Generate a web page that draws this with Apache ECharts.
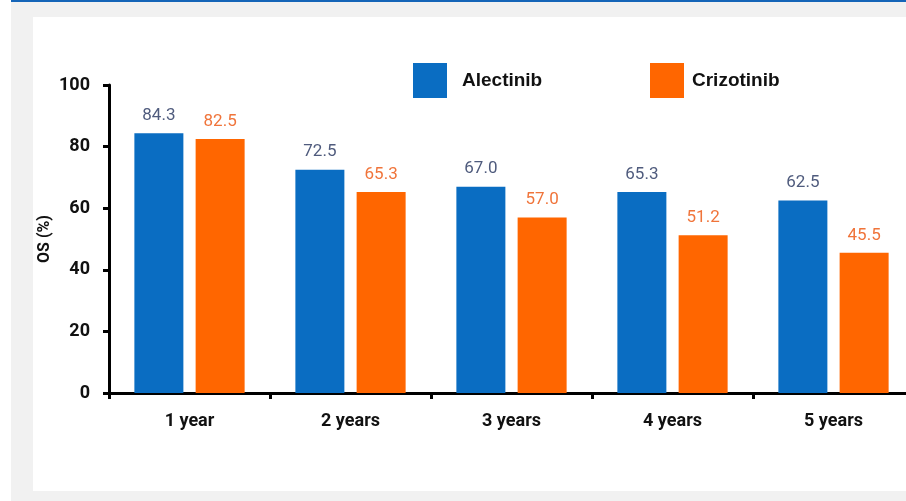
<!DOCTYPE html>
<html>
<head>
<meta charset="utf-8">
<title>OS by year</title>
<script src="https://cdn.jsdelivr.net/npm/echarts@6/dist/echarts.min.js"></script>
<style>
  html, body { margin: 0; padding: 0; background: #ffffff; overflow: hidden; }
  #frame { position: absolute; left: 11px; top: 0; width: 895px; height: 501px; background: #f1f1f1; }
  #topline { position: absolute; left: 11px; top: 0; width: 895px; height: 2px; background: #1565b8; }
  #panel { position: absolute; left: 33px; top: 17px; width: 873px; height: 474px; background: #ffffff; overflow: hidden; }
  #chart { position: absolute; left: 0; top: 0; width: 900px; height: 474px; }
</style>
</head>
<body>
<div id="frame"></div>
<div id="topline"></div>
<div id="panel"><div id="chart"></div></div>
<script>
const categories = ['1 year', '2 years', '3 years', '4 years', '5 years'];
const alectinib = [84.3, 72.5, 67.0, 65.3, 62.5];
const crizotinib = [82.5, 65.3, 57.0, 51.2, 45.5];
const yTicks = [0, 20, 40, 60, 80, 100];

const BLUE = '#0a6dc2';
const ORANGE = '#ff6600';

const chart = echarts.init(document.getElementById('chart'));

function legendText(gap) {
  return {
    fontFamily: '"Liberation Sans", Arial, sans-serif',
    fontWeight: 'bold',
    fontSize: 19,
    color: '#111111',
    padding: [0, 0, 0, gap]
  };
}

const boldText = {
  fontFamily: 'Roboto, sans-serif',
  fontWeight: 'bold',
  color: '#111111'
};

chart.setOption({
  animation: false,
  legend: [
    {
      data: ['Alectinib'], left: 380, top: 46,
      itemWidth: 34, itemHeight: 35,
      icon: 'rect', textStyle: legendText(10), padding: 0
    },
    {
      data: ['Crizotinib'], left: 617, top: 46,
      itemWidth: 34, itemHeight: 35,
      icon: 'rect', textStyle: legendText(3), padding: 0
    }
  ],
  grid: { left: 76, top: 68, width: 805, height: 308, containLabel: false, outerBoundsMode: 'none' },
  xAxis: {
    type: 'category',
    data: categories,
    axisLine: { lineStyle: { color: '#000000', width: 3 } },
    axisTick: { show: true, length: 6, lineStyle: { color: '#000000', width: 3 } },
    axisLabel: Object.assign({ margin: 19, fontSize: 18 }, boldText)
  },
  yAxis: {
    type: 'value',
    min: yTicks[0],
    max: yTicks[yTicks.length - 1],
    interval: 20,
    name: 'OS (%)',
    nameLocation: 'middle',
    nameGap: 56,
    nameRotate: 90,
    nameMoveOverlap: false,
    nameTextStyle: Object.assign({ fontSize: 16 }, boldText),
    splitLine: { show: false },
    axisLine: { show: true, lineStyle: { color: '#000000', width: 3 } },
    axisTick: { show: true, length: 6, lineStyle: { color: '#000000', width: 3 } },
    axisLabel: Object.assign({ margin: 19, fontSize: 18 }, boldText)
  },
  series: [
    {
      name: 'Alectinib',
      type: 'bar',
      data: alectinib,
      barWidth: 49,
      barGap: '25%',
      itemStyle: { color: BLUE },
      label: {
        show: true,
        position: 'top',
        distance: 9,
        formatter: p => p.value.toFixed(1),
        fontFamily: 'Roboto, sans-serif',
        fontSize: 17,
        color: '#4f5b7d'
      }
    },
    {
      name: 'Crizotinib',
      type: 'bar',
      data: crizotinib,
      barWidth: 49,
      itemStyle: { color: ORANGE },
      label: {
        show: true,
        position: 'top',
        distance: 9,
        formatter: p => p.value.toFixed(1),
        fontFamily: 'Roboto, sans-serif',
        fontSize: 17,
        color: '#f0743a'
      }
    }
  ]
});
</script>
</body>
</html>
